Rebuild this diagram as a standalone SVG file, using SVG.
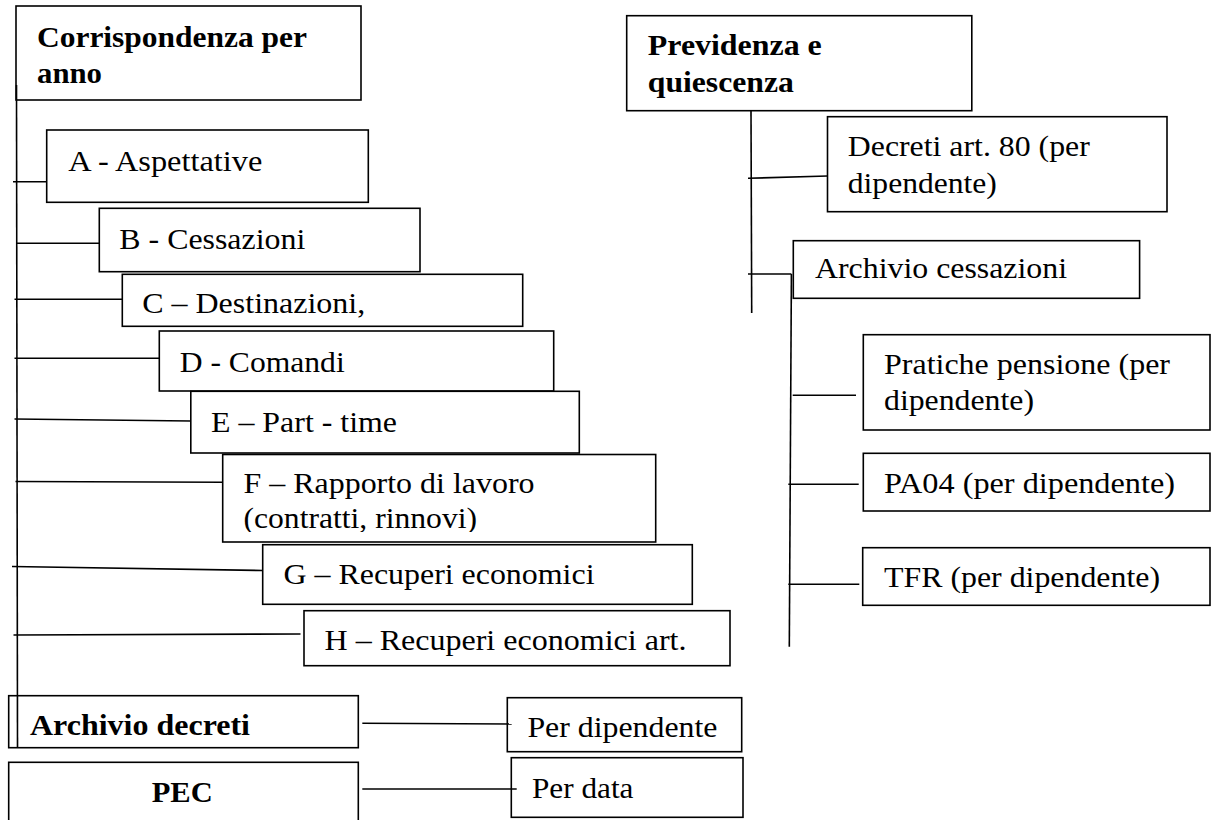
<svg xmlns="http://www.w3.org/2000/svg" width="1215" height="820" viewBox="0 0 1215 820">
<style>
.box{fill:#fff;stroke:#000;stroke-width:1.6}
.t{font-size:29px;fill:#000}
.b{font-weight:bold}
.ln{stroke:#000;stroke-width:1.6;fill:none}
</style>
<defs>
<clipPath id="clipF"><rect x="220" y="455" width="440" height="77"/></clipPath>
</defs>
<rect width="1215" height="820" fill="#fff"/>
<g font-family="Liberation Serif, DejaVu Serif, serif">
<g id="n-corrispondenza"><rect class="box" x="16" y="6" width="345" height="94"/>
<text class="t b" x="37" y="46.7" textLength="270" lengthAdjust="spacingAndGlyphs">Corrispondenza per</text>
<text class="t b" x="37" y="83.3" textLength="65" lengthAdjust="spacingAndGlyphs">anno</text></g>
<g id="n-a"><rect class="box" x="46.7" y="130" width="321.6" height="72.3"/>
<text class="t" x="68.3" y="170.7" textLength="194" lengthAdjust="spacingAndGlyphs">A - Aspettative</text></g>
<g id="n-b"><rect class="box" x="99.3" y="208.3" width="320.7" height="63.4"/>
<text class="t" x="119.3" y="249.3" textLength="186" lengthAdjust="spacingAndGlyphs">B - Cessazioni</text></g>
<g id="n-c"><rect class="box" x="122.3" y="274.3" width="400.4" height="52"/>
<text class="t" x="142.2" y="313.3" textLength="223" lengthAdjust="spacingAndGlyphs">C – Destinazioni,</text></g>
<g id="n-d"><rect class="box" x="159.3" y="331" width="394.4" height="60"/>
<text class="t" x="179.7" y="371.7" textLength="165" lengthAdjust="spacingAndGlyphs">D - Comandi</text></g>
<g id="n-e"><rect class="box" x="190.8" y="391.3" width="388.5" height="61.7"/>
<text class="t" x="211" y="431.7" textLength="186" lengthAdjust="spacingAndGlyphs">E – Part - time</text></g>
<g id="n-f"><rect class="box" x="222.7" y="454.5" width="433" height="87.5"/>
<text class="t" x="243.5" y="492.7" textLength="291" lengthAdjust="spacingAndGlyphs">F – Rapporto di lavoro</text>
<text class="t" x="243.5" y="528.3" textLength="233.5" lengthAdjust="spacingAndGlyphs" clip-path="url(#clipF)">(contratti, rinnovi)</text></g>
<g id="n-g"><rect class="box" x="262.7" y="544.7" width="429.6" height="59.6"/>
<text class="t" x="283.5" y="584.3" textLength="311" lengthAdjust="spacingAndGlyphs">G – Recuperi economici</text></g>
<g id="n-h"><rect class="box" x="304" y="610.7" width="426" height="55"/>
<text class="t" x="324.5" y="650" textLength="362" lengthAdjust="spacingAndGlyphs">H – Recuperi economici art.</text></g>
<g id="n-archivio-decreti"><rect class="box" x="8.7" y="695.7" width="349.6" height="52"/>
<text class="t b" x="30" y="735" textLength="220" lengthAdjust="spacingAndGlyphs">Archivio decreti</text></g>
<g id="n-pec"><rect class="box" x="8.7" y="762.3" width="349.6" height="70"/>
<text class="t b" x="151.7" y="801.7" textLength="61" lengthAdjust="spacingAndGlyphs">PEC</text></g>
<g id="n-per-dipendente"><rect class="box" x="507.3" y="697.7" width="234.4" height="54"/>
<text class="t" x="527.4" y="736.7" textLength="190" lengthAdjust="spacingAndGlyphs">Per dipendente</text></g>
<g id="n-per-data"><rect class="box" x="511.3" y="757.7" width="231.7" height="59.6"/>
<text class="t" x="532" y="798.3" textLength="101.5" lengthAdjust="spacingAndGlyphs">Per data</text></g>
<g id="n-previdenza"><rect class="box" x="626.7" y="15.7" width="345.1" height="95"/>
<text class="t b" x="647.8" y="55" textLength="174" lengthAdjust="spacingAndGlyphs">Previdenza e</text>
<text class="t b" x="647.8" y="91.7" textLength="146" lengthAdjust="spacingAndGlyphs">quiescenza</text></g>
<g id="n-decreti80"><rect class="box" x="827.5" y="116.7" width="339.5" height="95"/>
<text class="t" x="847.8" y="156" textLength="242" lengthAdjust="spacingAndGlyphs">Decreti art. 80 (per</text>
<text class="t" x="847.8" y="192.7" textLength="149" lengthAdjust="spacingAndGlyphs">dipendente)</text></g>
<g id="n-archivio-cessazioni"><rect class="box" x="793.3" y="240.7" width="346.3" height="57.6"/>
<text class="t" x="815" y="278.3" textLength="252" lengthAdjust="spacingAndGlyphs">Archivio cessazioni</text></g>
<g id="n-pratiche"><rect class="box" x="863.3" y="334.7" width="346.7" height="95.3"/>
<text class="t" x="884" y="374" textLength="286" lengthAdjust="spacingAndGlyphs">Pratiche pensione (per</text>
<text class="t" x="884" y="410" textLength="150" lengthAdjust="spacingAndGlyphs">dipendente)</text></g>
<g id="n-pa04"><rect class="box" x="863.3" y="453.3" width="346.7" height="57.7"/>
<text class="t" x="884" y="493.3" textLength="291" lengthAdjust="spacingAndGlyphs">PA04 (per dipendente)</text></g>
<g id="n-tfr"><rect class="box" x="862.7" y="547.7" width="347.3" height="57.6"/>
<text class="t" x="884" y="587.3" textLength="276" lengthAdjust="spacingAndGlyphs">TFR (per dipendente)</text></g>
</g>
<g id="connectors">
<line class="ln" x1="16.5" y1="85" x2="17.5" y2="747"/>
<line class="ln" x1="13" y1="181.7" x2="46.7" y2="181.7"/>
<line class="ln" x1="16" y1="243.3" x2="99.3" y2="243.3"/>
<line class="ln" x1="14.5" y1="299.3" x2="122.3" y2="299.3"/>
<line class="ln" x1="14.5" y1="358.3" x2="159.3" y2="358.3"/>
<line class="ln" x1="14.5" y1="419" x2="190.8" y2="421"/>
<line class="ln" x1="15.5" y1="481.5" x2="222.7" y2="482.3"/>
<line class="ln" x1="12" y1="566.5" x2="262.7" y2="570.5"/>
<line class="ln" x1="13.5" y1="635" x2="300.5" y2="634"/>
<line class="ln" x1="362.3" y1="723.3" x2="511.7" y2="724"/>
<line class="ln" x1="362.3" y1="789" x2="516.7" y2="789"/>
<line class="ln" x1="751" y1="110.7" x2="751.7" y2="313"/>
<line class="ln" x1="748" y1="178.3" x2="827.5" y2="176"/>
<line class="ln" x1="748" y1="274" x2="791.4" y2="274"/>
<line class="ln" x1="791.4" y1="274" x2="789.3" y2="646.7"/>
<line class="ln" x1="792.7" y1="395.3" x2="856" y2="395.3"/>
<line class="ln" x1="788.3" y1="484.3" x2="858.7" y2="484.3"/>
<line class="ln" x1="788.3" y1="584.3" x2="859.3" y2="584.3"/>
</g>
</svg>
